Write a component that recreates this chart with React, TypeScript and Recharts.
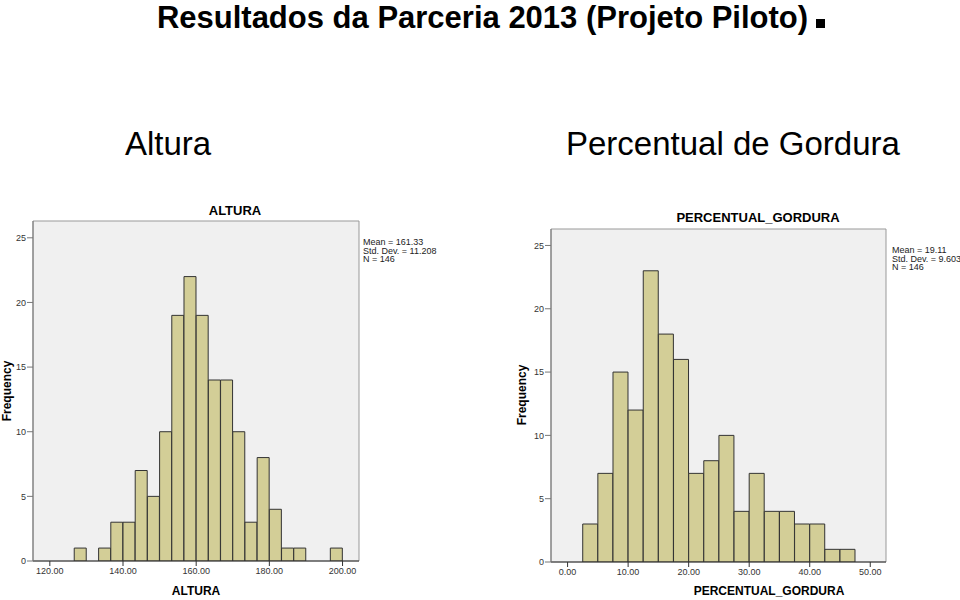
import { BarChart, Bar, XAxis, YAxis, CartesianGrid, ReferenceArea } from 'recharts'

// bins (midpoints) and frequencies
const alturaMid = [
    128.333, 131.667, 135, 138.333, 141.667, 145, 148.333, 151.667, 155, 158.333, 161.667, 165,
    168.333, 171.667, 175, 178.333, 181.667, 185, 188.333, 191.667, 195, 198.333,
]
const alturaFreq = [1, 0, 1, 3, 3, 7, 5, 10, 19, 22, 19, 14, 14, 10, 3, 8, 4, 1, 1, 0, 0, 1]
const alturaTicks = [120, 140, 160, 180, 200]

const gorduraMid = [
    3.75, 6.25, 8.75, 11.25, 13.75, 16.25, 18.75, 21.25, 23.75, 26.25, 28.75, 31.25, 33.75, 36.25,
    38.75, 41.25, 43.75, 46.25,
]
const gorduraFreq = [3, 7, 15, 12, 23, 18, 16, 7, 8, 10, 4, 7, 4, 4, 3, 3, 1, 1]
const gorduraTicks = [0, 10, 20, 30, 40, 50]

const freqTicks = [0, 5, 10, 15, 20, 25]

const alturaStats = ['Mean = 161.33', 'Std. Dev. = 11.208', 'N = 146']
const gorduraStats = ['Mean = 19.11', 'Std. Dev. = 9.603', 'N = 146']

const FONT = "'Liberation Sans', Arial, sans-serif"
const BAR_FILL = '#D3CE97'
const Y_MAX = 26.3

interface HistProps {
    mids: number[]
    freqs: number[]
    ticks: number[]
    domain: [number, number]
    left: number
    top: number
    width: number
    height: number
    margin: { top: number; right: number; bottom: number; left: number }
}

function Histogram({ mids, freqs, ticks, domain, left, top, width, height, margin }: HistProps) {
    const data = mids.map((m, i) => ({ mid: m, freq: freqs[i] }))
    return (
        <div style={{ position: 'absolute', left, top }}>
            <BarChart width={width} height={height} data={data} margin={margin} barCategoryGap={0} barGap={0}>
                <CartesianGrid horizontal={false} vertical={false} fill="#F0F0F0" />
                <XAxis
                    dataKey="mid"
                    type="number"
                    domain={domain}
                    allowDataOverflow
                    ticks={ticks}
                    tickFormatter={(v: number) => v.toFixed(2)}
                    height={30}
                    tickSize={5}
                    tickMargin={2}
                    stroke="#333"
                    tick={{ fontSize: 9, fill: '#333', fontFamily: FONT }}
                />
                <YAxis
                    type="number"
                    domain={[0, Y_MAX]}
                    allowDataOverflow
                    ticks={freqTicks}
                    width={24}
                    tickSize={6}
                    tickMargin={1}
                    stroke="#777"
                    tick={{ fontSize: 9, fill: '#333', fontFamily: FONT }}
                />
                <Bar dataKey="freq" fill={BAR_FILL} stroke="#333" strokeWidth={1} isAnimationActive={false} />
                <ReferenceArea
                    x1={domain[0]}
                    x2={domain[1]}
                    y1={0}
                    y2={Y_MAX}
                    fill="none"
                    fillOpacity={0}
                    stroke="#999"
                    strokeWidth={1}
                />
            </BarChart>
        </div>
    )
}

const abs = (left: number, top: number, extra: React.CSSProperties = {}): React.CSSProperties => ({
    position: 'absolute',
    left,
    top,
    whiteSpace: 'nowrap',
    ...extra,
})

function Stats({ lines, left, top }: { lines: string[]; left: number; top: number }) {
    return (
        <div style={abs(left, top, { fontSize: 9, lineHeight: '8.5px', color: '#222' })}>
            {lines.map(l => (
                <div key={l}>{l}</div>
            ))}
        </div>
    )
}

export default function App() {
    return (
        <div
            style={{
                position: 'absolute',
                left: 0,
                top: 0,
                width: 960,
                height: 600,
                background: '#fff',
                fontFamily: FONT,
                overflow: 'hidden',
            }}
        >
            <div
                style={abs(0, 0, {
                    width: 960,
                    boxSizing: 'border-box',
                    paddingLeft: 22,
                    textAlign: 'center',
                    fontWeight: 'bold',
                    fontSize: 31,
                    lineHeight: 'normal',
                })}
            >
                Resultados da Parceria 2013 (Projeto Piloto)
                <span style={{ display: 'inline-block', width: 9, height: 9, background: '#000', marginLeft: 8 }} />
            </div>

            <div style={abs(0, 126, { width: 336, textAlign: 'center', fontSize: 33, lineHeight: '36px' })}>Altura</div>
            <div style={abs(566, 126, { fontSize: 33, lineHeight: '36px' })}>Percentual de Gordura</div>

            {/* Altura */}
            <div style={abs(33, 203, { width: 404, textAlign: 'center', fontSize: 13, fontWeight: 'bold' })}>ALTURA</div>
            <Histogram
                mids={alturaMid}
                freqs={alturaFreq}
                ticks={alturaTicks}
                domain={[115.4, 204.5]}
                left={0}
                top={195}
                width={480}
                height={405}
                margin={{ top: 26, right: 121, bottom: 9, left: 9 }}
            />
            <Stats lines={alturaStats} left={363} top={238} />
            <div style={abs(0, 584, { width: 392, textAlign: 'center', fontSize: 12, fontWeight: 'bold' })}>ALTURA</div>
            <div
                style={abs(7, 391, {
                    fontSize: 12,
                    fontWeight: 'bold',
                    transform: 'translate(-50%, -50%) rotate(-90deg)',
                })}
            >
                Frequency
            </div>

            {/* Percentual de gordura */}
            <div style={abs(551, 210, { width: 414, textAlign: 'center', fontSize: 13, fontWeight: 'bold' })}>
                PERCENTUAL_GORDURA
            </div>
            <Histogram
                mids={gorduraMid}
                freqs={gorduraFreq}
                ticks={gorduraTicks}
                domain={[-2.74, 52.6]}
                left={500}
                top={205}
                width={460}
                height={395}
                margin={{ top: 24, right: 74, bottom: 8, left: 27 }}
            />
            <Stats lines={gorduraStats} left={892} top={246} />
            <div style={abs(551, 584, { width: 436, textAlign: 'center', fontSize: 12, fontWeight: 'bold' })}>
                PERCENTUAL_GORDURA
            </div>
            <div
                style={abs(522, 395, {
                    fontSize: 12,
                    fontWeight: 'bold',
                    transform: 'translate(-50%, -50%) rotate(-90deg)',
                })}
            >
                Frequency
            </div>
        </div>
    )
}
